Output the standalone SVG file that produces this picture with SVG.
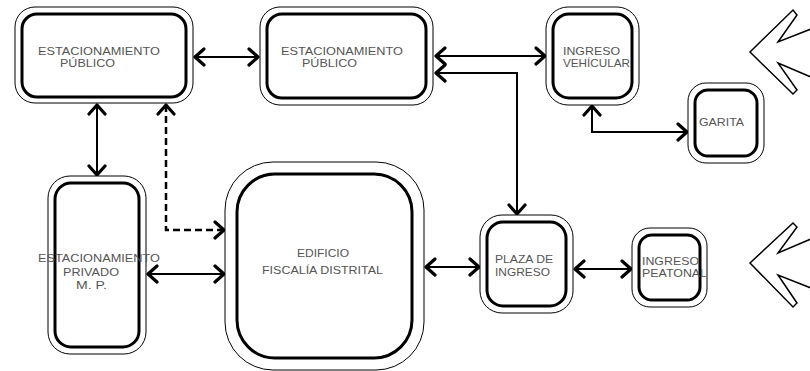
<svg xmlns="http://www.w3.org/2000/svg" width="810" height="371" viewBox="0 0 810 371">
<style>
.o{fill:#fff;stroke:#000;stroke-width:1}
.i{fill:#fff;stroke:#000;stroke-width:3}
.t{font-family:"Liberation Sans",Arial,sans-serif;font-size:11px;fill:#555}
.c{fill:none;stroke:#000;stroke-width:2;marker-start:url(#ah);marker-end:url(#ah)}
.d{stroke-dasharray:7 4;stroke-width:2.5}
.dir{fill:none;stroke:#000;stroke-width:1.5;stroke-linejoin:miter}
</style>
<defs>
<marker id="ah" markerUnits="userSpaceOnUse" markerWidth="20" markerHeight="20" viewBox="-12 -10 14 20" refX="0" refY="0" orient="auto-start-reverse">
<path d="M-9,-8 L0,0 L-9,8" fill="none" stroke="#000" stroke-width="3.2" stroke-linejoin="round" stroke-linecap="round"/>
</marker>
</defs>
<rect width="810" height="371" fill="#fff"/>
<g id="connectors">
<path class="c" d="M195,57 H258"/>
<path class="c" d="M436,56 H545"/>
<path class="c" d="M436,73 H517 V214"/>
<path class="c" d="M592,106 V132 H687"/>
<path class="c" d="M97,105 V175"/>
<path class="c d" d="M166,105 V230 H224"/>
<path class="c" d="M148,274 H224"/>
<path class="c" d="M426,267 H479"/>
<path class="c" d="M575,269 H631"/>
</g>
<g id="n1">
<rect class="o" x="15" y="7" width="178" height="96" rx="20"/>
<rect class="i" x="22" y="14" width="164" height="83" rx="15"/>
<text class="t" x="38" y="55" textLength="122" lengthAdjust="spacingAndGlyphs">ESTACIONAMIENTO</text>
<text class="t" x="60" y="67" textLength="55" lengthAdjust="spacingAndGlyphs">PÚBLICO</text>
</g>
<g id="n2">
<rect class="o" x="260" y="7" width="173" height="98" rx="20"/>
<rect class="i" x="267" y="14" width="159" height="84" rx="15"/>
<text class="t" x="281" y="55" textLength="122" lengthAdjust="spacingAndGlyphs">ESTACIONAMIENTO</text>
<text class="t" x="302" y="67" textLength="55" lengthAdjust="spacingAndGlyphs">PÚBLICO</text>
</g>
<g id="n3">
<rect class="o" x="546" y="7" width="93" height="98" rx="22"/>
<rect class="i" x="553" y="14" width="79" height="84" rx="16"/>
<text class="t" x="563" y="55" textLength="57" lengthAdjust="spacingAndGlyphs">INGRESO</text>
<text class="t" x="563" y="67" textLength="67" lengthAdjust="spacingAndGlyphs">VEHÍCULAR</text>
</g>
<g id="garita">
<rect class="o" x="688" y="83" width="76" height="80" rx="18"/>
<rect class="i" x="695" y="90" width="62" height="66" rx="13"/>
<text class="t" x="699" y="126" textLength="45" lengthAdjust="spacingAndGlyphs">GARITA</text>
</g>
<g id="n4">
<rect class="o" x="48" y="176" width="98" height="178" rx="22"/>
<rect class="i" x="55" y="183" width="84" height="164" rx="16"/>
<text class="t" x="38" y="262" textLength="122" lengthAdjust="spacingAndGlyphs">ESTACIONAMIENTO</text>
<text class="t" x="63" y="276" textLength="56" lengthAdjust="spacingAndGlyphs">PRIVADO</text>
<text class="t" x="76" y="289" textLength="31" lengthAdjust="spacingAndGlyphs">M. P.</text>
</g>
<g id="edificio">
<rect class="o" x="225" y="162" width="199" height="208" rx="48"/>
<rect class="i" x="237" y="174" width="175" height="184" rx="38"/>
<text class="t" x="297" y="257" textLength="52" lengthAdjust="spacingAndGlyphs">EDIFICIO</text>
<text class="t" x="262" y="274" textLength="121" lengthAdjust="spacingAndGlyphs">FISCALÍA DISTRITAL</text>
</g>
<g id="plaza">
<rect class="o" x="480" y="215" width="93" height="98" rx="22"/>
<rect class="i" x="487" y="222" width="79" height="84" rx="16"/>
<text class="t" x="495" y="263" textLength="58" lengthAdjust="spacingAndGlyphs">PLAZA DE</text>
<text class="t" x="495" y="276" textLength="55" lengthAdjust="spacingAndGlyphs">INGRESO</text>
</g>
<g id="peatonal">
<rect class="o" x="632" y="228" width="75" height="79" rx="18"/>
<rect class="i" x="639" y="235" width="61" height="65" rx="13"/>
<text class="t" x="642" y="265" textLength="57" lengthAdjust="spacingAndGlyphs">INGRESO</text>
<text class="t" x="642" y="277" textLength="65" lengthAdjust="spacingAndGlyphs">PEATONAL</text>
</g>
<polyline class="dir" points="811,29 778,42 797,15 793,10 750,52 793,94 797,90 778,63 811,77"/>
<polyline class="dir" points="811,239 778,253 797,227 793,223 750,263 793,307 797,303 778,275 811,288"/>
</svg>
